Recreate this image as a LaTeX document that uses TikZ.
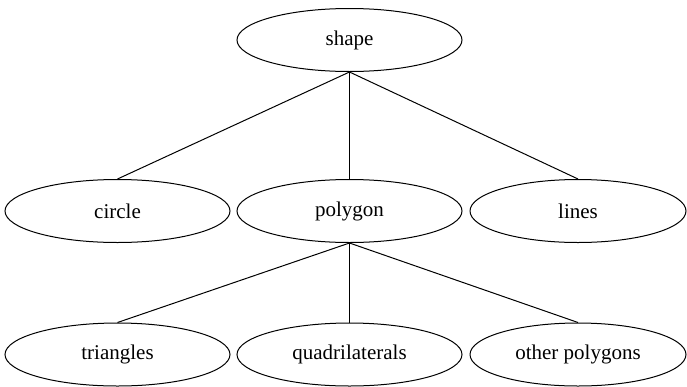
\documentclass[tikz,border=0pt]{standalone}
\usepackage{fontspec}
\setmainfont{Liberation Serif}
\newfontfamily\nodefont{Liberation Serif}
\usetikzlibrary{shapes.geometric}
\begin{document}
\begin{tikzpicture}[x=1pt,y=-1pt,
  nd/.style={draw, ellipse, line width=1pt, inner sep=0pt,
    minimum width=225pt, minimum height=63pt,
    font=\nodefont\fontsize{21}{25}\selectfont},
  ndr/.style={nd, minimum width=216pt},
  ed/.style={line width=1pt}]
\useasboundingbox (0,0) rectangle (687,386);
\node[nd] (shape) at (349.5,40) {shape};
\node[nd] (circle) at (117.5,211) {circle};
\node[nd] (polygon) at (349.5,211) {polygon};
\node[ndr] (lines) at (578,211) {lines};
\node[nd] (tri) at (117.5,354.5) {triangles};
\node[nd] (quad) at (349.5,354.5) {quadrilaterals};
\node[ndr] (other) at (578,354.5) {other polygons};
\draw[ed] (shape.south) -- (circle.north);
\draw[ed] (shape.south) -- (polygon.north);
\draw[ed] (shape.south) -- (lines.north);
\draw[ed] (polygon.south) -- (tri.north);
\draw[ed] (polygon.south) -- (quad.north);
\draw[ed] (polygon.south) -- (other.north);
\end{tikzpicture}
\end{document}
